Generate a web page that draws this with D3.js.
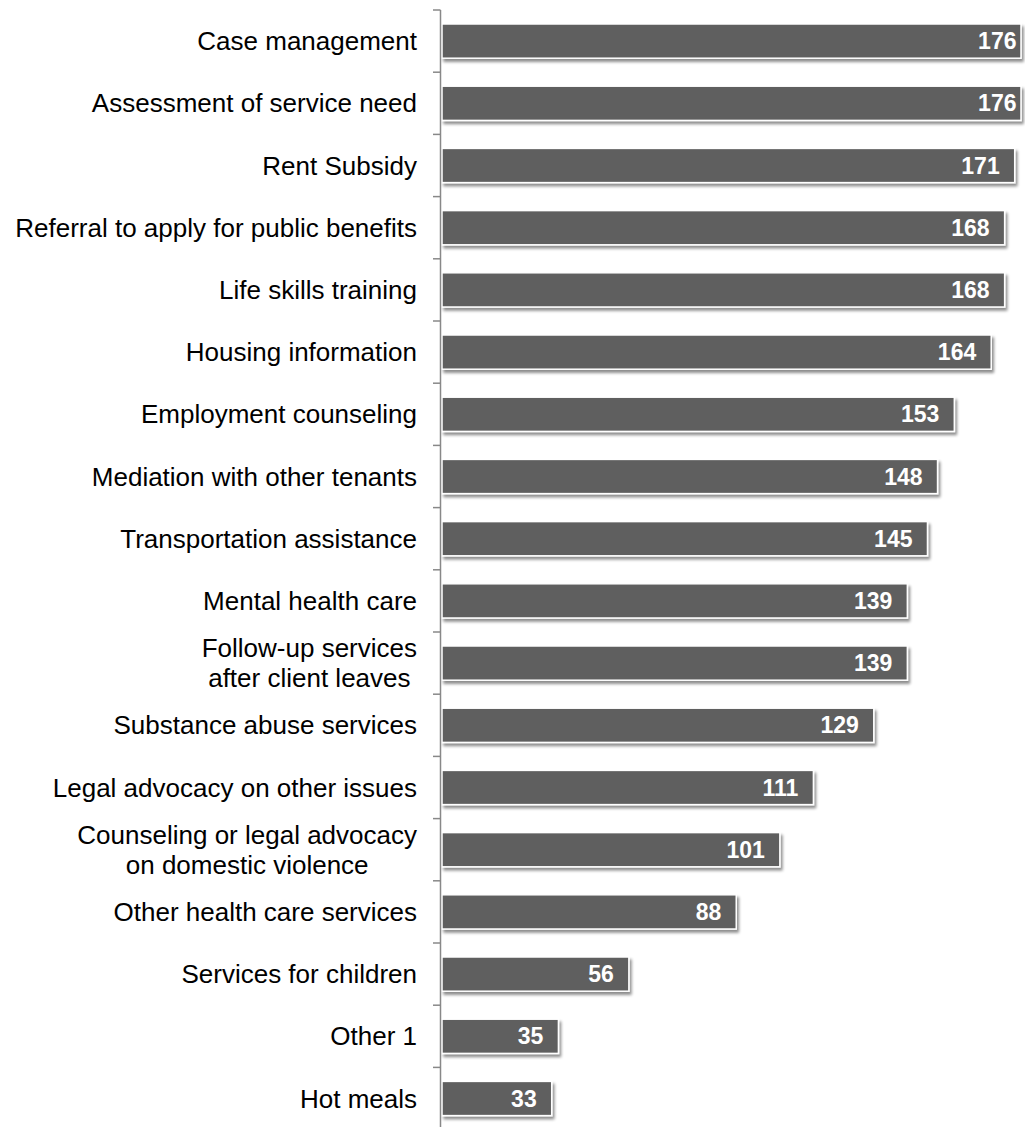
<!DOCTYPE html>
<html>
<head>
<meta charset="utf-8">
<script src="https://cdn.jsdelivr.net/npm/d3@7"></script>
<style>
  body { margin: 0; background: #fff; }
  svg { display: block; font-family: "Liberation Sans", Arial, sans-serif; }
</style>
</head>
<body>
<div id="chart"></div>
<script>
// categories top to bottom, "\n" splits a label over two lines
var categories = [
  "Case management",
  "Assessment of service need",
  "Rent Subsidy",
  "Referral to apply for public benefits",
  "Life skills training",
  "Housing information",
  "Employment counseling",
  "Mediation with other tenants",
  "Transportation assistance",
  "Mental health care",
  "Follow-up services\nafter client leaves",
  "Substance abuse services",
  "Legal advocacy on other issues",
  "Counseling or legal advocacy\non domestic violence",
  "Other health care services",
  "Services for children",
  "Other 1",
  "Hot meals"
];
var values = [176, 176, 171, 168, 168, 164, 153, 148, 145, 139, 139, 129, 111, 101, 88, 56, 35, 33];

var totalWidth = 1025, totalHeight = 1127;
var margin = { top: 10, left: 441 };
var plotWidth = 580;          // visible plot area, longest bars get cut here
var step = 62.2;

var svg = d3.select("#chart").append("svg")
  .attr("width", totalWidth)
  .attr("height", totalHeight);

var defs = svg.append("defs");
var shadow = defs.append("filter").attr("id", "shadow")
  .attr("x", "-5%").attr("y", "-30%").attr("width", "115%").attr("height", "180%");
shadow.append("feGaussianBlur").attr("in", "SourceAlpha").attr("stdDeviation", 1.8);
shadow.append("feOffset").attr("dx", 2).attr("dy", 3).attr("result", "off");
shadow.append("feComponentTransfer").append("feFuncA").attr("type", "linear").attr("slope", 0.45);
var merge = shadow.append("feMerge");
merge.append("feMergeNode");
merge.append("feMergeNode").attr("in", "SourceGraphic");

var g = svg.append("g")
  .attr("transform", "translate(" + margin.left + "," + margin.top + ")");

// scales
var x = d3.scaleLinear().domain([0, 200]).range([0, 671]);
var y = d3.scaleBand()
  .domain(categories)
  .range([0, step * categories.length])
  .paddingInner(0.45)
  .paddingOuter(0.225);

// bars
g.selectAll("rect.bar")
  .data(values)
  .enter()
  .append("rect")
  .attr("class", "bar")
  .attr("x", 1)
  .attr("y", function (d, i) { return y(categories[i]); })
  .attr("width", function (d) { return Math.min(x(d), plotWidth) - 1; })
  .attr("height", y.bandwidth())
  .attr("fill", "#5f5f5f")
  .attr("stroke", "#ffffff")
  .attr("stroke-width", 1.5)
  .attr("filter", "url(#shadow)");

// value labels
g.selectAll("text.value")
  .data(values)
  .enter()
  .append("text")
  .attr("class", "value")
  .attr("x", function (d) { return x(d) - 15; })
  .attr("y", function (d, i) { return y(categories[i]) + y.bandwidth() / 2; })
  .attr("dy", "0.35em")
  .attr("text-anchor", "end")
  .attr("fill", "#ffffff")
  .style("font-size", "23px")
  .style("font-weight", "bold")
  .text(function (d) { return d; });

// axis line and ticks between categories
var axisColor = "#888888";
g.append("line")
  .attr("x1", -0.5).attr("x2", -0.5)
  .attr("y1", 0).attr("y2", totalHeight)
  .attr("stroke", axisColor).attr("stroke-width", 1.5);

g.selectAll("line.tick")
  .data(d3.range(categories.length + 1))
  .enter()
  .append("line")
  .attr("class", "tick")
  .attr("x1", -8).attr("x2", -0.5)
  .attr("y1", function (i) { return i * y.step(); })
  .attr("y2", function (i) { return i * y.step(); })
  .attr("stroke", axisColor).attr("stroke-width", 1.5);

// category labels
var labelRight = -24;
var lineHeight = 30;
categories.forEach(function (c, i) {
  var lines = c.split("\n");
  var cy = y(c) + y.bandwidth() / 2;
  var t = g.append("text")
    .attr("fill", "#000")
    .style("font-size", "26px");
  if (lines.length === 1) {
    t.attr("x", labelRight).attr("y", cy).attr("dy", "0.35em")
      .attr("text-anchor", "end").text(c);
  } else {
    t.attr("text-anchor", "middle");
    var spans = lines.map(function (l, k) {
      return t.append("tspan")
        .attr("y", cy + (k - (lines.length - 1) / 2) * lineHeight)
        .attr("dy", "0.35em")
        .text(l);
    });
    var maxW = d3.max(spans, function (s) { return s.node().getComputedTextLength(); });
    spans.forEach(function (s) { s.attr("x", labelRight - maxW / 2); });
  }
});
</script>
</body>
</html>
